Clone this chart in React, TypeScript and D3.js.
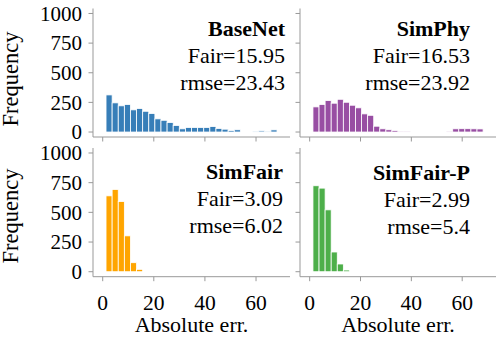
import React from "react";
import * as d3 from "d3";

// ---- data ----
const binStart = 1.3;
const binWidth = 2.39;
const xTicks = [0, 20, 40, 60];
const yTicks = [0, 250, 500, 750, 1000];

const baseNetCounts = [313, 246, 221, 232, 187, 198, 175, 156, 111, 99, 80, 55, 27, 38, 38, 38, 38, 46, 30, 24, 13, 19, 0, 0, 3, 10, 3, 18];
const simPhyCounts = [212, 232, 265, 243, 276, 251, 226, 204, 153, 141, 49, 27, 19, 13, 3, 3, 0, 0, 0, 0, 0, 0, 3, 27, 28, 28, 27, 26];
const simFairCounts = [639, 693, 591, 302, 76, 20];
const simFairPCounts = [724, 704, 521, 166, 65, 14];

const titles = ["BaseNet", "SimPhy", "SimFair", "SimFair-P"];
const fairValues = ["15.95", "16.53", "3.09", "2.99"];
const rmseValues = ["23.43", "23.92", "6.02", "5.4"];
const colors = ["#377eb8", "#984ea3", "#ffa500", "#4daf4a"];

const FONT = "'Liberation Serif', 'Times New Roman', serif";
const SPINE = "#999999";

type PanelProps = {
  counts: number[];
  color: string;
  title: string;
  fair: string;
  rmse: string;
  left: number;
  right: number;
  top: number;
  bottom: number;
  textX: number;
  textY: number;
  showYLabels: boolean;
  showXLabels: boolean;
  ylabelY: number;
};

function Panel(p: PanelProps) {
  const x = d3.scaleLinear().domain([-3.8, 73.3]).range([p.left, p.right]);
  const y = d3.scaleLinear().domain([-42, 1042]).range([p.bottom, p.top]);
  return (
    <g>
      {p.counts.map((c, i) => {
        if (c <= 0) return null;
        const x0 = binStart + i * binWidth;
        return (
          <rect
            key={i}
            x={x(x0)}
            y={y(c)}
            width={x(x0 + binWidth) - x(x0)}
            height={y(0) - y(c)}
            fill={p.color}
            stroke="#ffffff"
            strokeWidth={0.8}
          />
        );
      })}
      <line x1={p.left} x2={p.left} y1={p.top} y2={p.bottom} stroke={SPINE} strokeWidth={1} />
      <line x1={p.left} x2={p.right} y1={p.bottom} y2={p.bottom} stroke={SPINE} strokeWidth={1} />
      {yTicks.map((t) => (
        <g key={"y" + t}>
          <line x1={p.left - 4.5} x2={p.left} y1={y(t)} y2={y(t)} stroke={SPINE} strokeWidth={1} />
          {p.showYLabels && (
            <text x={p.left - 11} y={y(t)} dy="0.35em" textAnchor="end" fontSize={21} fontFamily={FONT} fill="#000">
              {t}
            </text>
          )}
        </g>
      ))}
      {xTicks.map((t) => (
        <g key={"x" + t}>
          <line x1={x(t)} x2={x(t)} y1={p.bottom} y2={p.bottom + 4.5} stroke={SPINE} strokeWidth={1} />
          {p.showXLabels && (
            <text x={x(t)} y={p.bottom + 33} textAnchor="middle" fontSize={21.5} fontFamily={FONT} fill="#000">
              {t}
            </text>
          )}
        </g>
      ))}
      {p.showXLabels && (
        <text x={(p.left + p.right) / 2} y={p.bottom + 55} textAnchor="middle" fontSize={22} fontFamily={FONT} fill="#000">
          Absolute err.
        </text>
      )}
      {p.showYLabels && (
        <text
          transform={`translate(18,${p.ylabelY}) rotate(-90)`}
          textAnchor="middle"
          fontSize={22.5}
          fontFamily={FONT}
          fill="#000"
        >
          Frequency
        </text>
      )}
      <text x={p.textX} y={p.textY} textAnchor="end" fontSize={22} fontWeight="bold" fontFamily={FONT} fill="#000">
        {p.title}
      </text>
      <text x={p.textX} y={p.textY + 27} textAnchor="end" fontSize={22} fontFamily={FONT} fill="#000">
        Fair={p.fair}
      </text>
      <text x={p.textX} y={p.textY + 54} textAnchor="end" fontSize={22} fontFamily={FONT} fill="#000">
        rmse={p.rmse}
      </text>
    </g>
  );
}

export default function App() {
  const countsList = [baseNetCounts, simPhyCounts, simFairCounts, simFairPCounts];
  const layout = [
    { left: 93, right: 290, top: 8.5, bottom: 137, textX: 285, textY: 35.5, showY: true, showX: false, ly: 79 },
    { left: 300, right: 496, top: 8.5, bottom: 137, textX: 470, textY: 36, showY: false, showX: false, ly: 79 },
    { left: 93, right: 290, top: 148, bottom: 276.7, textX: 283, textY: 179, showY: true, showX: true, ly: 216 },
    { left: 300, right: 496, top: 148, bottom: 276.7, textX: 470, textY: 180, showY: false, showX: true, ly: 216 },
  ];
  return (
    <svg width={499} height={338} style={{ position: "absolute", left: 0, top: 0, background: "#fff" }}>
      <rect width={499} height={338} fill="#fff" />
      {layout.map((l, i) => (
        <Panel
          key={i}
          counts={countsList[i]}
          color={colors[i]}
          title={titles[i]}
          fair={fairValues[i]}
          rmse={rmseValues[i]}
          left={l.left}
          right={l.right}
          top={l.top}
          bottom={l.bottom}
          textX={l.textX}
          textY={l.textY}
          showYLabels={l.showY}
          showXLabels={l.showX}
          ylabelY={l.ly}
        />
      ))}
    </svg>
  );
}
